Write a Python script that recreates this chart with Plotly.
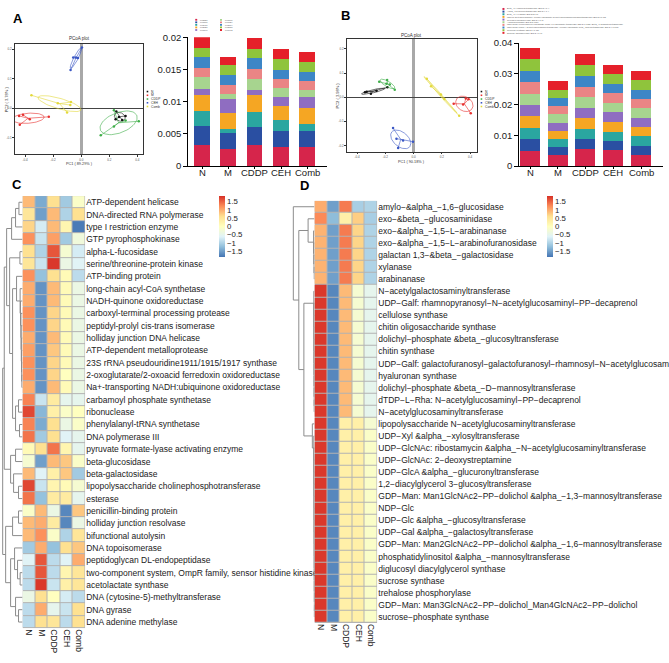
import numpy as np
import plotly.graph_objects as go

W, H = 669, 663
FONT = "Liberation Sans"


def fx(px):
    return px / W


def fy(py):
    return 1 - py / H


groups = ["N", "M", "CDDP", "CEH", "Comb"]
group_colors = {"N": "#111111", "M": "#e8312f", "CDDP": "#3fae49", "CEH": "#3a57c4", "Comb": "#e3d93a"}

# ---- PCoA points (panel A / B), per group: x list, y list
pcoa_a = {
    "N": ([0.25, 0.292, 0.316, 0.269, 0.245], [-0.011, -0.04, -0.026, -0.03, -0.037]),
    "M": ([-0.443, -0.415, -0.438, -0.231, -0.367], [-0.026, -0.022, -0.056, -0.029, -0.037]),
    "CDDP": ([0.233, 0.139, 0.316, 0.41, 0.233], [-0.007, -0.092, -0.042, -0.044, -0.062]),
    "CEH": ([0.005, -0.057, -0.038, -0.076, -0.023], [0.206, 0.172, 0.172, 0.13, 0.171]),
    "Comb": ([-0.355, -0.167, -0.073, -0.101, -0.078], [0.044, 0.017, 0.021, -0.014, 0.011]),
}
pcoa_b = {
    "N": ([-0.344, -0.302, -0.185, -0.332, -0.262], [0.02, 0.014, 0.041, 0.022, 0.027]),
    "M": ([0.37, 0.405, 0.284, 0.389, 0.351], [-0.005, -0.067, -0.027, -0.009, -0.03]),
    "CDDP": ([-0.243, -0.187, -0.133, -0.192, -0.168], [0.064, 0.071, 0.031, 0.056, 0.052]),
    "CEH": ([-0.145, -0.004, -0.109, -0.121, -0.074], [-0.128, -0.184, -0.21, -0.172, -0.179]),
    "Comb": ([0.094, 0.194, 0.323, 0.124, 0.218], [0.076, 0.011, -0.077, 0.045, -0.007]),
}

# ---- stacked bars, one list per layer (bottom to top), values for N, M, CDDP, CEH, Comb
bar_colors = ["#d6254b", "#2a4fa2", "#2aa6a0", "#f5a623", "#8f6dc1",
              "#a7d48f", "#ea8585", "#3d86c6", "#8fc43c", "#e5202a"]
a_layers = [
    [0.0032, 0.0026, 0.0032, 0.00285, 0.00285],
    [0.00296, 0.00249, 0.00286, 0.0026, 0.00249],
    [0.00234, 0.00056, 0.00234, 0.00162, 0.00117],
    [0.0025, 0.00249, 0.0026, 0.00229, 0.00245],
    [0.00096, 0.00219, 0.0008, 0.00138, 0.00168],
    [0.00188, 0.00077, 0.00174, 0.00132, 0.00106],
    [0.00138, 0.00152, 0.00152, 0.00138, 0.00153],
    [0.00162, 0.00143, 0.00168, 0.00147, 0.00132],
    [0.00138, 0.00162, 0.00143, 0.00163, 0.00163],
    [0.00173, 0.00128, 0.00163, 0.00153, 0.00143],
]
b_layers = [
    [0.005, 0.0035, 0.00544, 0.00512, 0.00363],
    [0.00384, 0.00256, 0.0032, 0.00309, 0.00298],
    [0.00352, 0.00256, 0.00341, 0.00299, 0.0032],
    [0.00384, 0.00277, 0.00352, 0.00309, 0.00299],
    [0.00363, 0.00267, 0.00342, 0.0031, 0.00288],
    [0.00363, 0.00277, 0.0033, 0.00309, 0.00309],
    [0.00373, 0.00256, 0.00342, 0.0032, 0.00299],
    [0.00373, 0.00278, 0.00362, 0.00309, 0.00288],
    [0.00374, 0.00266, 0.00352, 0.0031, 0.0032],
    [0.00373, 0.00288, 0.00363, 0.00298, 0.0032],
]
a_legend = ["K03657", "K01187", "K03406", "K02027", "K01190",
            "K01176", "K07024", "K02004", "K03088", "K01992"]
b_legend = [
    "Beta_-1,4-mannosyltransferase [EC:2.4.1.-]",
    "Alpha_-1,2-glucosyltransferase [EC:2.4.1.-]",
    "Beta_-1,4-xylanase [EC:3.2.1.8]",
    "UDP-N-acetylglucosamine--dolichyl-phosphate N-acetylglucosaminephosphotransferase [EC:2.7.8.15]",
    "Glycogen phosphorylase [EC:2.4.1.1]",
    "Alpha-glucosidase [EC:3.2.1.20]",
    "UDP-GlcNAc:undecaprenyl-phosphate GlcNAc-1-phosphate transferase [EC:2.7.8.33] / Beta_-1,3-galactosyltransferase",
    "UDP-GlcNAc:lipid A N-acetylglucosaminyltransferase / dolichyl-phosphate beta_-glucosyltransferase [EC:2.4.1.117]",
    "Cellulose synthase [EC:2.4.1.12]",
    "Sucrose phosphorylase [EC:2.4.1.7]",
]

# ---- heatmap C
c_labels = [
    "ATP-dependent helicase", "DNA-directed RNA polymerase", "type I restriction enzyme",
    "GTP pyrophosphokinase", "alpha-L-fucosidase", "serine/threonine-protein kinase",
    "ATP-binding protein", "long-chain acyl-CoA synthetase", "NADH-quinone oxidoreductase",
    "carboxyl-terminal processing protease", "peptidyl-prolyl cis-trans isomerase",
    "holliday junction DNA helicase", "ATP-dependent metalloprotease",
    "23S rRNA pseudouridine1911/1915/1917 synthase", "2-oxoglutarate/2-oxoacid ferredoxin oxidoreductase",
    "Na+-transporting NADH:ubiquinone oxidoreductase", "carbamoyl phosphate synthetase", "ribonuclease",
    "phenylalanyl-tRNA synthetase", "DNA polymerase III", "pyruvate formate-lyase activating enzyme",
    "beta-glucosidase", "beta-galactosidase", "lipopolysaccharide cholinephosphotransferase", "esterase",
    "penicillin-binding protein", "holliday junction resolvase", "bifunctional autolysin", "DNA topoisomerase",
    "peptidoglycan DL-endopeptidase", "two-component system, OmpR family, sensor histidine kinase",
    "acetolactate synthase", "DNA (cytosine-5)-methyltransferase", "DNA gyrase", "DNA adenine methylase",
]
c_values = [
    [0.9, -1.4, 0.6, -1.1, -0.1],
    [0.5, -1.5, 0.9, -1.0, 0.6],
    [0.7, -0.7, 0.9, 0.2, -1.8],
    [1.2, -0.8, 1.1, -1.1, -0.3],
    [0.6, -1.0, 1.6, -0.2, -0.7],
    [0.5, -0.8, 1.8, -0.4, -0.6],
    [1.2, -1.2, 0.6, 0.1, -0.9],
    [1.0, -1.6, 0.9, 0.1, -0.4],
    [1.0, -1.6, 0.9, 0.1, -0.4],
    [1.2, -1.6, 0.7, 0.1, -0.4],
    [1.2, -1.6, 0.7, 0.1, -0.4],
    [1.0, -1.6, 0.9, 0.1, -0.4],
    [1.1, -1.6, 0.8, 0.1, -0.4],
    [1.2, -1.6, 0.7, 0.1, -0.4],
    [1.2, -1.6, 0.7, 0.0, -0.4],
    [1.0, -1.6, 0.9, 0.1, -0.4],
    [1.3, -0.8, 0.4, -0.5, -0.5],
    [1.7, -1.3, 0.3, -0.1, 0.0],
    [1.3, -1.4, 0.6, -0.4, -0.1],
    [1.4, -1.1, 0.6, -0.6, -0.5],
    [0.1, 0.6, 1.4, 0.2, -0.5],
    [-0.2, -1.5, 0.9, 0.8, -0.1],
    [0.9, -0.6, 0.3, 0.8, -1.1],
    [1.7, -0.8, 0.2, 0.1, -0.2],
    [1.4, -1.2, 0.4, 0.4, -0.5],
    [-0.1, 0.9, -0.4, -1.7, 0.8],
    [0.9, 1.0, 0.4, -1.7, -0.4],
    [0.9, 1.2, -0.1, -1.0, 0.5],
    [-1.1, 1.0, -1.2, 0.6, 0.8],
    [-0.6, 1.6, -0.9, -0.6, 1.0],
    [-0.9, 1.6, -0.9, 0.2, 0.5],
    [-0.9, 1.8, -0.8, 0.3, 0.5],
    [-0.4, 0.6, 0.0, -0.7, -0.9],
    [-0.9, 1.0, -0.5, -0.8, 0.6],
    [-0.9, 0.6, 0.5, -0.9, 0.6],
]

# ---- heatmap D
d_labels = [
    "amylo−&alpha_−1,6−glucosidase", "exo−&beta_−glucosaminidase", "exo−&alpha_−1,5−L−arabinanase",
    "exo−&alpha_−1,5−L−arabinofuranosidase", "galactan 1,3−&beta_−galactosidase", "xylanase", "arabinanase",
    "N−acetylgalactosaminyltransferase", "UDP−Galf: rhamnopyranosyl−N−acetylglucosaminyl−PP−decaprenol",
    "cellulose synthase", "chitin oligosaccharide synthase", "dolichyl−phosphate &beta_−glucosyltransferase",
    "chitin synthase", "UDP−Galf: galactofuranosyl−galactofuranosyl−rhamnosyl−N−acetylglucosam",
    "hyaluronan synthase", "dolichyl−phosphate &beta_−D−mannosyltransferase",
    "dTDP−L−Rha: N−acetylglucosaminyl−PP−decaprenol", "N−acetylglucosaminyltransferase",
    "lipopolysaccharide N−acetylglucosaminyltransferase", "UDP−Xyl &alpha_−xylosyltransferase",
    "UDP−GlcNAc: ribostamycin &alpha_−N−acetylglucosaminyltransferase", "UDP−GlcNAc: 2−deoxystreptamine",
    "UDP−GlcA &alpha_−glucuronyltransferase", "1,2−diacylglycerol 3−glucosyltransferase",
    "GDP−Man: Man1GlcNAc2−PP−dolichol &alpha_−1,3−mannosyltransferase", "NDP−Glc",
    "UDP−Glc &alpha_−glucosyltransferase", "UDP−Gal &alpha_−galactosyltransferase",
    "GDP−Man: Man2GlcNAc2−PP−dolichol &alpha_−1,6−mannosyltransferase",
    "phosphatidylinositol &alpha_−mannosyltransferase", "diglucosyl diacylglycerol synthase",
    "sucrose synthase", "trehalose phosphorylase",
    "GDP−Man: Man3GlcNAc2−PP−dolichol_Man4GlcNAc2−PP−dolichol", "sucrose−phosphate synthase",
]
d_values = [
    [1.0, -1.5, 1.35, -1.05, -1.0],
    [1.25, -1.25, 0.3, 0.75, -1.05],
    [0.95, -1.5, 1.35, 0.7, -1.0],
    [0.95, -1.5, 1.35, 0.7, -1.0],
    [0.95, -1.5, 1.35, 0.7, -1.0],
    [0.95, -1.5, 1.35, 0.7, -1.0],
    [0.95, -1.5, 1.35, 0.7, -1.0],
    [1.8, -1.7, 0.9, -0.2, -0.5],
    [1.8, -1.7, 0.9, -0.2, -0.5],
    [1.8, -1.7, 0.9, -0.2, -0.5],
    [1.8, -1.7, 0.9, -0.2, -0.5],
    [1.8, -1.7, 0.9, -0.2, -0.5],
    [1.8, -1.7, 0.9, -0.2, -0.5],
    [1.8, -1.7, 0.9, -0.2, -0.5],
    [1.8, -1.7, 0.9, -0.2, -0.5],
    [1.8, -1.7, 0.9, -0.2, -0.5],
    [1.8, -1.7, 0.9, -0.2, -0.5],
    [1.8, -1.7, 0.9, -0.2, -0.5],
    [1.8, -1.7, 0.3, 0.3, -0.2],
    [1.8, -1.7, 0.3, 0.3, -0.1],
    [1.8, -1.7, 0.3, 0.3, -0.1],
    [1.8, -1.7, 0.3, 0.3, -0.1],
    [1.8, -1.7, 0.3, 0.3, -0.1],
    [1.8, -1.7, 0.3, 0.3, -0.1],
    [1.8, -1.7, 0.3, 0.3, -0.1],
    [1.8, -1.7, 0.3, 0.3, -0.1],
    [1.8, -1.7, 0.3, 0.3, -0.1],
    [1.8, -1.7, 0.3, 0.3, -0.1],
    [1.8, -1.7, 0.3, 0.3, -0.1],
    [1.8, -1.7, 0.3, 0.3, -0.1],
    [1.8, -1.7, 0.3, 0.3, -0.1],
    [1.8, -1.7, 0.3, 0.3, -0.1],
    [1.8, -1.7, 0.3, 0.3, -0.1],
    [1.8, -1.7, 0.3, 0.3, -0.1],
    [1.8, -1.7, 0.3, 0.3, -0.1],
]

# ---- row dendrograms: (height, left, right), leaves = row index
c_tight = (0.12, 7, (0.1, 8, (0.08, 9, (0.07, 10, (0.06, 11, (0.05, 12, (0.04, 13, (0.03, 14, 15))))))))
c_rows1_20 = (0.8,
              (0.55, (0.35, (0.18, 0, 1), 2), 3),
              (0.65, (0.13, 4, 5),
               (0.5, (0.3, 6, c_tight), (0.35, (0.2, 16, 17), (0.15, 18, 19)))))
c_rows21_25 = (0.6, (0.35, 20, 21), (0.45, 22, (0.2, 23, 24)))
c_rows26_35 = (0.85,
               (0.5, (0.2, 25, 26), 27),
               (0.6, (0.4, 28, (0.25, 29, (0.12, 30, 31))), (0.35, 32, (0.2, 33, 34))))
c_tree = (1.0, (0.92, c_rows1_20, c_rows21_25), c_rows26_35)

d_mid = (0.03, 7, (0.028, 8, (0.026, 9, (0.024, 10, (0.022, 11, (0.02, 12, (0.018, 13, (0.016, 14, (0.014, 15, (0.012, 16, 17))))))))))
d_low = (0.1, 18, (0.03, 19, (0.028, 20, (0.026, 21, (0.024, 22, (0.022, 23, (0.02, 24, (0.018, 25, (0.016, 26, (0.014, 27, (0.012, 28, (0.01, 29, (0.009, 30, (0.008, 31, (0.007, 32, (0.006, 33, 34))))))))))))))))
d_tree = (1.0, 0, (0.74, (0.3, 1, (0.04, 2, (0.03, 3, (0.02, 4, (0.01, 5, 6))))), (0.5, d_mid, d_low)))

heat_scale = ["#4575B4", "#91BFDB", "#E0F3F8", "#FFFFBF", "#FEE090", "#FC8D59", "#D73027"]


def walk(node, xs, ys):
    if isinstance(node, int):
        return float(node), 0.0
    h, a, b = node
    ya, ha = walk(a, xs, ys)
    yb, hb = walk(b, xs, ys)
    xs += [ha, h, h, hb, None]
    ys += [ya, ya, yb, yb, None]
    return (ya + yb) / 2, h


def ellipse(xv, yv, k=1.3, n=60):
    pts = np.column_stack([xv, yv])
    c = pts.mean(axis=0)
    vals, vecs = np.linalg.eigh(np.cov(pts.T))
    t = np.linspace(0, 2 * np.pi, n)
    circ = np.column_stack([np.cos(t), np.sin(t)]) * (k * np.sqrt(np.maximum(vals, 1e-6)))
    e = circ @ vecs.T + c
    return e[:, 0], e[:, 1]


fig = go.Figure()
annotations = []
shapes = []

# ---- PCoA panels
for data, xa, ya in [(pcoa_a, "x", "y"), (pcoa_b, "x3", "y3")]:
    for g in groups:
        xv, yv = data[g]
        col = group_colors[g]
        cx, cy = np.mean(xv), np.mean(yv)
        sx, sy = [], []
        for a, b in zip(xv, yv):
            sx += [cx, a, None]
            sy += [cy, b, None]
        fig.add_trace(go.Scatter(x=sx, y=sy, mode="lines", line=dict(color=col, width=0.6),
                                 xaxis=xa, yaxis=ya, showlegend=False, hoverinfo="skip"))
        ex, ey = ellipse(xv, yv)
        fig.add_trace(go.Scatter(x=ex, y=ey, mode="lines", line=dict(color=col, width=0.6),
                                 xaxis=xa, yaxis=ya, showlegend=False, hoverinfo="skip"))
        fig.add_trace(go.Scatter(x=xv, y=yv, mode="markers", marker=dict(color=col, size=2.5),
                                 xaxis=xa, yaxis=ya, showlegend=False))

# ---- stacked bars
for layers, xa, ya, wd in [(a_layers, "x2", "y2", 0.6), (b_layers, "x4", "y4", 0.72)]:
    for i, vals in enumerate(layers):
        fig.add_trace(go.Bar(x=list(range(5)), y=vals, width=wd, marker=dict(color=bar_colors[i], line=dict(width=0)),
                             xaxis=xa, yaxis=ya, showlegend=False))
    # category labels placed just under the axis line
    for i, g in enumerate(groups):
        annotations.append(dict(text=g, x=i, xref=xa, y=fy(169.5), yref="paper", showarrow=False,
                                xanchor="center", yanchor="middle", borderpad=0,
                                font=dict(size=9.5, color="#1a1a1a", family=FONT)))

# ---- heatmaps
for vals, xa, ya, cbx in [(c_values, "x5", "y5", 221), (d_values, "x6", "y6", 552)]:
    fig.add_trace(go.Heatmap(
        z=vals, x=list(range(5)), y=list(range(len(vals))), xaxis=xa, yaxis=ya,
        colorscale=heat_scale, zmin=-1.85, zmax=1.85, xgap=1, ygap=1,
        colorbar=dict(x=fx(cbx), xanchor="left", y=fy(193), yanchor="top", len=62 / H,
                      thickness=5.5, outlinewidth=0, xpad=0, ypad=0, ticks="",
                      tickvals=[1.5, 1, 0.5, 0, -0.5, -1, -1.5],
                      ticktext=["1.5", "1", "0.5", "0", "−0.5", "−1", "−1.5"],
                      tickfont=dict(size=7.8, color="#222", family=FONT)),
    ))
    shapes.append(dict(type="rect", xref=xa, yref=ya, x0=-0.5, x1=4.5, y0=-0.5, y1=len(vals) - 0.5,
                       fillcolor="#b3b3b3", line=dict(width=0), layer="below"))

# ---- dendrograms
for tree, xa, ya in [(c_tree, "x7", "y7"), (d_tree, "x8", "y8")]:
    xs, ys = [], []
    walk(tree, xs, ys)
    fig.add_trace(go.Scatter(x=xs, y=ys, mode="lines", line=dict(color="#8c8c8c", width=1),
                             xaxis=xa, yaxis=ya, showlegend=False, hoverinfo="skip"))

tiny = dict(size=3, color="#555", family=FONT)
pcoa_axis = dict(showline=True, mirror=True, linecolor="#333", linewidth=1, showgrid=False,
                 ticks="outside", ticklen=1.5, tickcolor="#333", tickfont=tiny)
bar_axis = dict(showline=True, linecolor="black", linewidth=1.2, ticks="outside", ticklen=4,
                tickcolor="black", showgrid=False, zeroline=False, tickangle=0,
                tickfont=dict(size=9.5, color="#1a1a1a", family=FONT))
bar_xaxis = dict(bar_axis, ticklen=2)
hidden = dict(visible=False, showgrid=False, zeroline=False)

fig.update_layout(
    width=W, height=H, margin=dict(l=0, r=0, t=0, b=0),
    paper_bgcolor="white", plot_bgcolor="white", barmode="stack", bargap=0,
    font=dict(family=FONT, color="#222"),
    xaxis=dict(domain=[fx(15), fx(144)], range=[-0.473, 0.438], anchor="y",
               tickvals=[-0.4, -0.2, 0, 0.2, 0.4], ticktext=["-0.4", "-0.2", "0.0", "0.2", "0.4"],
               zeroline=True, zerolinecolor="#a8a8a8", zerolinewidth=2.5, **pcoa_axis),
    yaxis=dict(domain=[fy(151), fy(39)], range=[-0.157, 0.217], anchor="x",
               tickvals=[-0.1, 0, 0.1, 0.2], ticktext=["-0.1", "0.0", "0.1", "0.2"],
               zeroline=True, zerolinecolor="#444", zerolinewidth=1, **pcoa_axis),
    xaxis3=dict(domain=[fx(350), fx(481)], range=[-0.472, 0.447], anchor="y3",
                tickvals=[-0.4, -0.2, 0, 0.2, 0.4], ticktext=["-0.4", "-0.2", "0.0", "0.2", "0.4"],
                zeroline=True, zerolinecolor="#a8a8a8", zerolinewidth=2.5, **pcoa_axis),
    yaxis3=dict(domain=[fy(148), fy(34)], range=[-0.225, 0.239], anchor="x3",
                tickvals=[-0.2, -0.1, 0, 0.1, 0.2], ticktext=["-0.2", "-0.1", "0.0", "0.1", "0.2"],
                zeroline=True, zerolinecolor="#444", zerolinewidth=1, **pcoa_axis),
    xaxis2=dict(domain=[fx(190), fx(330)], range=[-0.53, 4.75], anchor="y2",
                tickvals=list(range(5)), showticklabels=False, **bar_xaxis),
    yaxis2=dict(domain=[fy(162.7), fy(31.7)], range=[0, 0.02], anchor="x2",
                tickvals=[0, 0.005, 0.01, 0.015, 0.02], ticktext=["0", "0.005", "0.01", "0.015", "0.02"], **bar_axis),
    xaxis4=dict(domain=[fx(524), fx(669)], range=[-0.39, 4.79], anchor="y4",
                tickvals=list(range(5)), showticklabels=False, **bar_xaxis),
    yaxis4=dict(domain=[fy(162.7), fy(37.7)], range=[0, 0.04], anchor="x4",
                tickvals=[0, 0.01, 0.02, 0.03, 0.04], ticktext=["0", "0.01", "0.02", "0.03", "0.04"], **bar_axis),
    xaxis5=dict(domain=[fx(22.7), fx(86)], range=[-0.5, 4.5], anchor="y5", tickvals=list(range(5)),
                ticktext=groups, tickangle=90, ticks="", showgrid=False, zeroline=False,
                tickfont=dict(size=8.5, color="#222", family=FONT)),
    yaxis5=dict(domain=[fy(632.7), fy(193.3)], range=[34.5, -0.5], anchor="x5", side="right",
                tickvals=list(range(len(c_labels))), ticktext=c_labels, ticks="", showgrid=False, zeroline=False,
                tickfont=dict(size=8.5, color="#222", family=FONT)),
    xaxis6=dict(domain=[fx(317.3), fx(380.7)], range=[-0.5, 4.5], anchor="y6", tickvals=list(range(5)),
                ticktext=groups, tickangle=90, ticks="", showgrid=False, zeroline=False,
                tickfont=dict(size=8.5, color="#222", family=FONT)),
    yaxis6=dict(domain=[fy(627.3), fy(198)], range=[34.5, -0.5], anchor="x6", side="right",
                tickvals=list(range(len(d_labels))), ticktext=d_labels, ticks="", showgrid=False, zeroline=False,
                tickfont=dict(size=8.5, color="#222", family=FONT)),
    xaxis7=dict(domain=[0, fx(22.7)], range=[1.135, 0], anchor="y7", **hidden),
    yaxis7=dict(domain=[fy(632.7), fy(193.3)], range=[34.5, -0.5], anchor="x7", **hidden),
    xaxis8=dict(domain=[fx(290), fx(317.3)], range=[1.28, 0], anchor="y8", **hidden),
    yaxis8=dict(domain=[fy(627.3), fy(198)], range=[34.5, -0.5], anchor="x8", **hidden),
)

# panel letters
for txt, x, y in [("A", 18, 13), ("B", 349, 10), ("C", 17, 182), ("D", 307, 183)]:
    annotations.append(dict(text="<b>%s</b>" % txt, x=fx(x), y=fy(y), xref="paper", yref="paper",
                            xanchor="center", yanchor="middle", showarrow=False, borderpad=0,
                            font=dict(size=13, color="black", family=FONT)))

# PCoA titles and axis titles
for t, x, y, ang, sz in [("PCoA plot", 80, 33, 0, 4.5), ("PC1 ( 89.29% )", 80, 161, 0, 3.8),
                         ("PC2 ( 3.78% )", 6, 95, -90, 4),
                         ("PCoA plot", 415, 30, 0, 4.5), ("PC1 ( 90.18% )", 415, 158.5, 0, 3.8),
                         ("PC2 ( 3.98% )", 341, 91, -90, 4)]:
    annotations.append(dict(text=t, x=fx(x), y=fy(y), xref="paper", yref="paper", showarrow=False,
                            xanchor="center", yanchor="middle", textangle=ang,
                            font=dict(size=sz, color="#333", family=FONT)))

# PCoA group legends
for lx, ly in [(148, 87), (485, 87)]:
    for i, g in enumerate(groups):
        yy = ly + i * 3.8
        shapes.append(dict(type="rect", xref="paper", yref="paper", x0=fx(lx), x1=fx(lx + 1.6),
                           y0=fy(yy + 0.8), y1=fy(yy - 0.8), fillcolor=group_colors[g], line=dict(width=0)))
        annotations.append(dict(text=g, x=fx(lx + 2.5), y=fy(yy), xref="paper", yref="paper", showarrow=False,
                                xanchor="left", yanchor="middle", font=dict(size=3.3, color="#333", family=FONT)))

# bar legends
for i, lab in enumerate(a_legend):
    col, row = divmod(i, 5)
    lx = 197 + col * 25
    yy = 14 + row * 2.6
    shapes.append(dict(type="rect", xref="paper", yref="paper", x0=fx(lx), x1=fx(lx + 2),
                       y0=fy(yy + 0.9), y1=fy(yy - 0.9), fillcolor=bar_colors[i], line=dict(width=0)))
    annotations.append(dict(text=lab, x=fx(lx + 3), y=fy(yy), xref="paper", yref="paper", showarrow=False,
                            xanchor="left", yanchor="middle", font=dict(size=2.2, color="#555", family=FONT)))
for i, lab in enumerate(b_legend):
    yy = 3 + i * 2.7
    shapes.append(dict(type="rect", xref="paper", yref="paper", x0=fx(507), x1=fx(509),
                       y0=fy(yy + 1), y1=fy(yy - 1), fillcolor=bar_colors[i], line=dict(width=0)))
    annotations.append(dict(text=lab, x=fx(510), y=fy(yy), xref="paper", yref="paper", showarrow=False,
                            xanchor="left", yanchor="middle", font=dict(size=2.2, color="#555", family=FONT)))

fig.update_layout(annotations=annotations, shapes=shapes)

# page body has a default margin; remove it so the figure fills the window exactly
fig.write_html("out.html", config={"displayModeBar": False},
               post_script="document.body.style.margin='0px';")
